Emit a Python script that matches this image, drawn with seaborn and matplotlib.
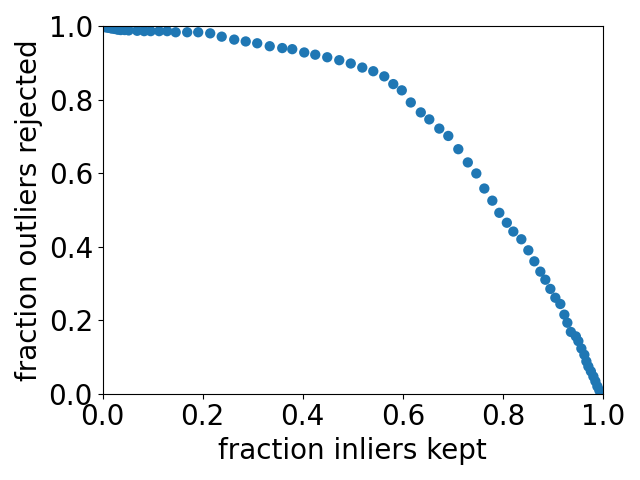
import numpy as np
import pandas as pd
import matplotlib
matplotlib.use("Agg")
import matplotlib.pyplot as plt
import seaborn as sns

inliers_kept = [
    0.000, 0.004, 0.008, 0.012, 0.018, 0.024, 0.030, 0.036, 0.044, 0.052,
    0.069, 0.083, 0.096, 0.113, 0.129, 0.146, 0.169, 0.191, 0.215, 0.238,
    0.263, 0.286, 0.309, 0.334, 0.359, 0.379, 0.403, 0.425, 0.449, 0.473,
    0.496, 0.519, 0.541, 0.563, 0.581, 0.598, 0.616, 0.636, 0.653, 0.673,
    0.691, 0.711, 0.730, 0.747, 0.763, 0.779, 0.793, 0.808, 0.821, 0.837,
    0.851, 0.863, 0.875, 0.885, 0.895, 0.905, 0.915, 0.923, 0.929, 0.936,
    0.946, 0.951, 0.957, 0.963, 0.967, 0.971, 0.976, 0.981, 0.985, 0.989,
    0.993, 0.996, 0.998, 1.000,
]
outliers_rejected = [
    0.999, 0.997, 0.996, 0.995, 0.993, 0.992, 0.990, 0.989, 0.989, 0.988,
    0.987, 0.986, 0.986, 0.986, 0.986, 0.983, 0.983, 0.983, 0.980, 0.971,
    0.963, 0.958, 0.953, 0.945, 0.940, 0.937, 0.928, 0.922, 0.915, 0.907,
    0.898, 0.887, 0.877, 0.863, 0.842, 0.825, 0.792, 0.765, 0.746, 0.721,
    0.701, 0.665, 0.629, 0.599, 0.558, 0.525, 0.492, 0.465, 0.441, 0.420,
    0.390, 0.360, 0.332, 0.310, 0.285, 0.261, 0.244, 0.215, 0.193, 0.168,
    0.156, 0.143, 0.123, 0.106, 0.088, 0.074, 0.061, 0.047, 0.034, 0.020,
    0.009, 0.004, 0.001, 0.000,
]

df = pd.DataFrame({"kept": inliers_kept, "rejected": outliers_rejected})

fig, ax = plt.subplots(figsize=(6.4, 4.8), dpi=100)
sns.scatterplot(data=df, x="kept", y="rejected", ax=ax, color="#1f77b4",
                s=55, linewidth=0, edgecolor="none")
ax.set_xlim(0, 1)
ax.set_ylim(0, 1)
ax.set_xlabel("fraction inliers kept", fontsize=20)
ax.set_ylabel("fraction outliers rejected", fontsize=20)
ax.tick_params(labelsize=20)
plt.tight_layout()
plt.savefig("out.png")
